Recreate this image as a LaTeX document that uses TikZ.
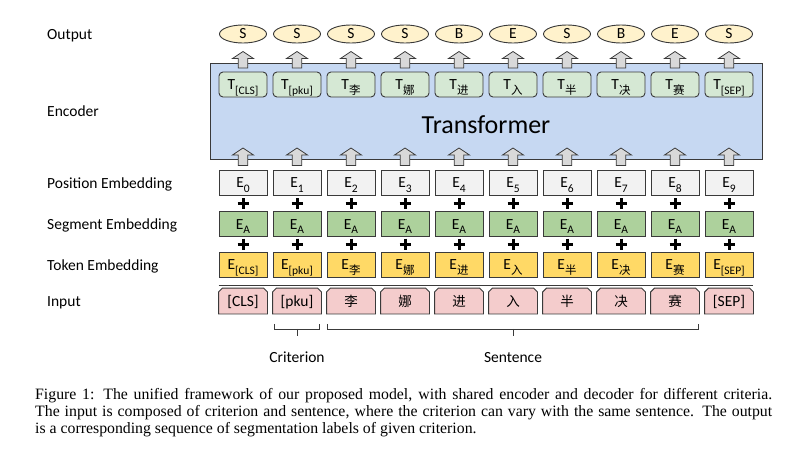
\documentclass[tikz,border=0pt]{standalone}
\usepackage{fontspec}
\setmainfont{Liberation Serif}
\newfontfamily\calfont{Carlito}
\newfontfamily\cjk{Noto Sans CJK SC}
\usetikzlibrary{shapes.geometric,calc}
\definecolor{lc}{HTML}{3A3A3A}
\definecolor{oyellow}{HTML}{FFF2CC}
\definecolor{tgreen}{HTML}{D5E8D4}
\definecolor{tblue}{HTML}{C6D8F2}
\definecolor{pgray}{HTML}{F2F2F2}
\definecolor{sgreen}{HTML}{ADD19C}
\definecolor{tyellow}{HTML}{FFD966}
\definecolor{ipink}{HTML}{F4CCCC}
\definecolor{agray}{HTML}{D9D9D9}
\newcommand\sbs[1]{\raisebox{-4.5pt}{\fontsize{11.5}{11.5}\selectfont #1}}
\newcommand\zh[1]{{\cjk #1}}
\newcommand\zhin[1]{{\cjk\fontsize{13.5}{13.5}\selectfont #1}}
\newcommand\blockup[3]{%
  \draw[lc, fill=agray, line width=0.8pt, line join=miter]
    (#1,#2) -- (#1+10.5,#2+7) -- (#1+4.8,#2+7) -- (#1+4.8,#3)
    -- (#1-4.8,#3) -- (#1-4.8,#2+7) -- (#1-10.5,#2+7) -- cycle;}
\pgfdeclarelayer{bg}
\pgfsetlayers{bg,main}
\begin{document}
\begin{tikzpicture}[x=1pt,y=-1pt,
  boxbase/.style={draw=lc, line width=0.9pt, minimum width=48pt, minimum height=25pt,
    inner sep=0pt, text height=10pt, text depth=0pt,
    font=\calfont\fontsize{15.5}{15.5}\selectfont},
  tbox/.style={boxbase, fill=tgreen, rounded corners=4pt},
  posbox/.style={boxbase, fill=pgray},
  segbox/.style={boxbase, fill=sgreen},
  tokbox/.style={boxbase, fill=tyellow},
  inbox/.style={boxbase, draw=none},
  inshape/.style={draw=lc, line width=0.9pt, fill=ipink},
  outnode/.style={ellipse, draw=lc, line width=0.9pt, fill=oyellow, minimum width=47pt,
    minimum height=18pt, inner sep=0pt, text height=10pt, text depth=0pt,
    font=\calfont\fontsize{15.5}{15.5}\selectfont},
  lab/.style={anchor=west, inner sep=0pt, text height=10pt, text depth=0pt,
    font=\calfont\fontsize{15.5}{15.5}\selectfont},
  plussign/.style={line width=3pt, black},
  bracket/.style={draw=lc, line width=0.9pt},
]
\useasboundingbox (0,0) rectangle (802,452);

% left labels
\node[lab] (lout) at (47,34.5) {Output};
\node[lab] (lenc) at (47,111.5) {Encoder};
\node[lab] (lpos) at (47,183) {Position Embedding};
\node[lab] (lseg) at (47,224.5) {Segment Embedding};
\node[lab] (ltok) at (47,265) {Token Embedding};
\node[lab] (lin) at (47,301.5) {Input};

% transformer
\node[draw=lc, line width=0.9pt, fill=tblue, minimum width=552pt, minimum height=96pt, inner sep=0pt] (trans) at (486,111) {};
\node[inner sep=0pt, font=\calfont\fontsize{26}{26}\selectfont] (ttext) at (486,125) {Transformer};

% outputs
\foreach \i/\l in {0/S,1/S,2/S,3/S,4/B,5/E,6/S,7/B,8/E,9/S}
  \node[outnode] (o\i) at (243+54*\i,34) {\l};

% T boxes
\foreach \i/\t in {0/{[CLS]},1/{[pku]},2/{\zh{李}},3/{\zh{娜}},4/{\zh{进}},5/{\zh{入}},6/{\zh{半}},7/{\zh{决}},8/{\zh{赛}},9/{[SEP]}}
  \node[tbox] (t\i) at (243+54*\i,84.5) {T\sbs{\t}};

% arrows
\foreach \i in {0,...,9} {
  \pgfmathsetmacro\cx{243+54*\i}
  \blockup{\cx}{51.5}{68}
  \blockup{\cx}{148}{165.5}
}

% embeddings
\foreach \i in {0,...,9}
  \node[posbox] (pos\i) at (243+54*\i,182.5) {E\sbs{\i}};
\foreach \i in {0,...,9}
  \node[segbox] (seg\i) at (243+54*\i,224) {E\sbs{A}};
\foreach \i/\t in {0/{[CLS]},1/{[pku]},2/{\zh{李}},3/{\zh{娜}},4/{\zh{进}},5/{\zh{入}},6/{\zh{半}},7/{\zh{决}},8/{\zh{赛}},9/{[SEP]}}
  \node[tokbox] (tok\i) at (243+54*\i,264.5) {E\sbs{\t}};

% plus signs
\foreach \i in {0,...,9} {
  \pgfmathsetmacro\cx{243+54*\i}
  \draw[plussign] (\cx-5.5,203.5) -- (\cx+5.5,203.5) (\cx,198) -- (\cx,209);
  \draw[plussign] (\cx-5.5,244) -- (\cx+5.5,244) (\cx,238.5) -- (\cx,249.5);
}

% separator
\draw[lc, line width=1.4pt] ($(tok0.south west)+(0,8)$) -- ($(tok9.south east)+(0,8)$);

% inputs
\foreach \i/\t in {0/{[CLS]},1/{[pku]},2/{\zhin{李}},3/{\zhin{娜}},4/{\zhin{进}},5/{\zhin{入}},6/{\zhin{半}},7/{\zhin{决}},8/{\zhin{赛}},9/{[SEP]}} {
  \node[inbox] (in\i) at (243+54*\i,301) {\t};
  \begin{pgfonlayer}{bg}
  \draw[inshape] ($(in\i.north west)+(0,4)$) -- ($(in\i.north west)+(4,0)$)
    -- ($(in\i.north east)+(-4,0)$) -- ($(in\i.north east)+(0,4)$)
    -- (in\i.south east) -- (in\i.south west) -- cycle;
  \end{pgfonlayer}
}

% brackets
\draw[bracket] ($(in1.south west)+(2,10)$) -- ++(0,5) -- ($(in1.south east)+(-2,15)$) -- ++(0,-5);
\draw[bracket] ($(in1.south)+(0,15)$) -- ++(0,7);
\draw[bracket] ($(in2.south west)+(1,10)$) -- ++(0,5) -- ($(in8.south east)+(-1,15)$) -- ++(0,-5);
\coordinate (smid) at ($(in2.south west)!0.5!(in8.south east)$);
\draw[bracket] ($(smid)+(0,15)$) -- ++(0,7);
\node[lab, anchor=center] (crit) at ($(in1.south)+(0,44)$) {Criterion};
\node[lab, anchor=center] (sent) at ($(smid)+(0,44)$) {Sentence};

% caption
\node[anchor=north west, inner sep=0pt, font=\fontsize{15.8}{17.2}\selectfont] (caption) at (35,388) {%
  \parbox{737pt}{%
  \makebox[737pt][s]{Figure 1: The unified framework of our proposed model, with shared encoder and decoder for different criteria.}\\
  \makebox[737pt][s]{The input is composed of criterion and sentence, where the criterion can vary with the same sentence. The output}\\
  is a corresponding sequence of segmentation labels of given criterion.}};
\end{tikzpicture}
\end{document}
